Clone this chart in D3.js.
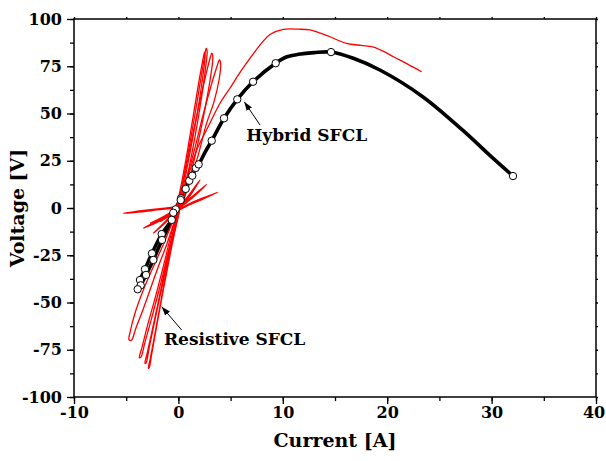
<!DOCTYPE html>
<html>
<head>
<meta charset="utf-8">
<script src="https://cdn.jsdelivr.net/npm/d3@7"></script>
<style>
  body { margin: 0; background: #fff; }
  svg text { font-family: "DejaVu Serif", serif; font-weight: bold; }
</style>
</head>
<body>
<svg id="chart" width="606" height="461"></svg>
<script>
// ---------- data ----------
const xTicks = [-10, 0, 10, 20, 30, 40];
const yTicks = [-100, -75, -50, -25, 0, 25, 50, 75, 100];
const xLabel = "Current [A]";
const yLabel = "Voltage [V]";

// Hybrid SFCL: measured markers (current, voltage)
const hybridMarkI = [0.25, 0.70, 1.04, 1.33, 1.66, 1.94, 3.19, 4.37, 5.64, 7.15, 9.32, 14.62, 32.05,
                     0.22, -0.26, -0.49, -0.64, -1.60, -1.57, -2.53, -2.40, -3.20, -3.10, -3.68, -3.61, -3.90];
const hybridMarkV = [5.1, 10.1, 14.4, 17.1, 21.2, 23.1, 35.6, 47.5, 57.5, 66.8, 76.6, 82.5, 16.9,
                     4.2, -0.7, -2.5, -6.3, -13.8, -16.9, -24.0, -27.5, -32.4, -35.4, -38.1, -40.9, -43.0];
// Hybrid SFCL: continuous trace
const hybridLine = [[-3.9,-43],[-3.68,-38.1],[-3.2,-32.4],[-2.53,-24],[-1.6,-13.8],[-0.64,-6.3],[-0.26,-0.7],
  [0.25,5.1],[0.7,10.1],[1.04,14.4],[1.33,17.1],[1.66,21.2],[1.94,23.1],[2.6,30],[3.19,35.6],[4.37,47.5],
  [5.64,57.5],[7.15,66.8],[9.32,76.6],[10.4,80],[11.5,81.3],[13,82.2],[14.62,82.5],[16.75,79.2],[19.3,73],
  [23.4,58.9],[27.2,41.3],[30.1,26.5],[32.05,16.9]];
const hybridBranch = [[-3.61,-40.9],[-3.1,-35.4],[-2.4,-27.5],[-1.57,-16.9],[-0.9,-9.5],[-0.49,-2.5],[0.22,4.2]];

// Resistive SFCL traces (current, voltage)
const resMain = [[-0.2,-3],[0.4,8],[1.0,18],[1.75,30.7],[2.9,43.5],[3.98,55.4],[4.95,63.5],[6.0,72.5],[7.17,81.5],
  [8.0,87.5],[8.77,91.8],[10.05,94.5],[11.5,94.6],[12.6,94.2],[13.6,92.5],[14.5,90.6],[16.1,87.1],[17.5,86],
  [18.6,85.3],[19.6,83],[20.6,80],[22,76],[23.3,72.1]];
const resUp1 = [[-0.5,-6],[0.2,8],[0.9,28],[1.6,50],[2.2,70],[2.5,80],[2.66,84.5],[2.75,83],[2.6,74],[2.2,58],[1.6,38],[0.9,18],[0.2,2]];
const resUp2 = [[-0.4,-5],[0.4,12],[1.2,34],[2.0,55],[2.7,72],[3.05,79.5],[3.2,81.9],[3.3,80],[3.1,70],[2.6,54],[1.9,35],[1.1,16],[0.3,1]];
const resUp3 = [[-0.2,-3],[0.6,12],[1.5,30],[2.4,50],[3.2,66],[3.7,75],[3.93,78.3],[4.05,76.5],[3.9,68],[3.4,56],[2.7,44.8],[1.9,28],[1.0,12],[0.2,0]];
const resUp4 = [[-0.6,-8],[0.0,5],[0.7,25],[1.4,48],[2.0,68],[2.4,80],[2.5,82.5],[2.55,80],[2.3,68],[1.8,50],[1.2,32],[0.5,12],[-0.1,-2]];
const resLow1 = [[0.3,3],[-0.6,-8],[-1.5,-20],[-2.4,-31.1],[-3.36,-43.4],[-4.16,-55.7],[-4.6,-65],[-4.73,-69.8],[-4.5,-70],[-4.1,-64],[-3.52,-55.7],[-2.72,-43.4],[-1.93,-31.1],[-1.1,-19],[-0.3,-6],[0.3,3]];
const resLow2 = [[0.4,5],[-0.5,-10],[-1.4,-30],[-2.2,-47],[-3.0,-63],[-3.5,-74],[-3.74,-79.2],[-3.6,-79],[-3.2,-71],[-2.5,-57],[-1.7,-40],[-0.9,-22],[0,-3]];
const resLow3 = [[0.5,6],[-0.4,-10],[-1.2,-30],[-1.9,-49],[-2.6,-67],[-3.0,-77],[-3.2,-82.2],[-3.1,-82],[-2.8,-74],[-2.2,-58],[-1.5,-40],[-0.7,-20],[0.1,-2]];
const resLow4 = [[0.6,8],[-0.2,-6],[-1.0,-28],[-1.7,-50],[-2.3,-68],[-2.7,-80],[-2.88,-84.8],[-2.8,-84.5],[-2.55,-77],[-2.0,-60],[-1.4,-42],[-0.7,-22],[0.1,-1]];
const resFlat1 = [[0.4,1.0],[-0.5,0.4],[-1.8,-0.3],[-3.5,-1.4],[-5.3,-2.8],[-3.5,-2.0],[-1.8,-0.9],[-0.5,-0.2],[0.3,0.3]];
const resFlat2 = [[-3.36,-10.7],[-2,-6.8],[-0.5,-2.3],[0.8,1.6],[2.3,5.2],[3.77,8.3],[2.3,4.6],[0.8,1.0],[-0.5,-2.9],[-2,-7.5],[-3.36,-10.7]];
const resFlat3 = [[-2.4,-13.4],[-1.2,-6.8],[0,0.2],[1.0,6.8],[2.07,14.8],[1.0,6.0],[0,-0.6],[-1.2,-7.6],[-2.4,-13.4]];
const resFlat4 = [[-2.72,-8.1],[-1.3,-4.2],[0,0.4],[1.3,6.0],[2.7,12.5],[1.3,5.2],[0,-0.4],[-1.3,-5.0],[-2.72,-8.1]];
const resFlat5 = [[-1.76,-7.2],[-0.8,-3.2],[0,0.4],[0.9,5.6],[1.75,12.2],[0.9,4.8],[0,-0.4],[-0.8,-4.0],[-1.76,-7.2]];
const resTraces = [resMain, resUp1, resUp2, resUp3, resUp4, resLow1, resLow2, resLow3, resLow4,
                   resFlat1, resFlat2, resFlat3, resFlat4, resFlat5];

// Annotations (data units)
const annHybrid = { text: "Hybrid SFCL", x: 6.5, y: 35.6, from: [7.82, 43.9], to: [6.31, 56.2] };
const annResist = { text: "Resistive SFCL", x: -1.38, y: -72.5, from: [0.32, -64.6], to: [-1.6, -52.2] };

// ---------- drawing ----------
const svg = d3.select("#chart");
const mL = 74, mR = 596, mT = 19, mB = 397;
const x = d3.scaleLinear().domain([-10, 40]).range([mL, mR]);
const y = d3.scaleLinear().domain([-100, 100]).range([mB, mT]);

svg.append("defs").append("marker")
  .attr("id", "arr").attr("viewBox", "0 0 10 10").attr("refX", 10).attr("refY", 5)
  .attr("markerWidth", 9).attr("markerHeight", 9).attr("markerUnits", "userSpaceOnUse")
  .attr("orient", "auto")
  .append("path").attr("d", "M0,1.5 L10,5 L0,8.5 Z").attr("fill", "#000");

const line = d3.line().x(d => x(d[0])).y(d => y(d[1])).curve(d3.curveCatmullRom.alpha(0.5));

// hybrid thick trace
svg.append("path").datum(hybridLine).attr("d", line)
  .attr("fill", "none").attr("stroke", "#000").attr("stroke-width", 3.6).attr("stroke-linejoin", "round");
svg.append("path").datum(hybridBranch).attr("d", line)
  .attr("fill", "none").attr("stroke", "#000").attr("stroke-width", 3.6).attr("stroke-linejoin", "round");

// resistive red traces
svg.append("g").selectAll("path").data(resTraces).join("path")
  .attr("d", line).attr("fill", "none").attr("stroke", "#ff0000").attr("stroke-width", 1.3);

// markers
svg.append("g").selectAll("circle").data(hybridMarkI).join("circle")
  .attr("cx", d => x(d)).attr("cy", (d, i) => y(hybridMarkV[i])).attr("r", 3.7)
  .attr("fill", "#fff").attr("stroke", "#000").attr("stroke-width", 1);

// axes
const fmt = d => String(d);
function styleAxis(g) {
  g.select(".domain").remove();
  g.selectAll(".tick line").attr("stroke", "#000").attr("stroke-width", 1.3);
  g.selectAll("text").attr("fill", "#000").style("font-size", "16px").style("font-weight", "bold")
   .style("font-family", "'DejaVu Serif', serif");
}
const xMinor = d3.range(-10, 40.01, 5);
const yMinor = d3.range(-100, 100.01, 12.5);

svg.append("g").attr("transform", `translate(0,${mB})`)
  .call(d3.axisBottom(x).tickValues(xMinor).tickSize(4).tickFormat("")).call(styleAxis);
const xAxisG = svg.append("g").attr("transform", `translate(0,${mB})`)
  .call(d3.axisBottom(x).tickValues(xTicks).tickSize(7).tickPadding(3).tickFormat(fmt)).call(styleAxis);
// keep the last label inside the canvas
xAxisG.selectAll(".tick text").filter(d => d === xTicks[xTicks.length - 1]).attr("dx", "-2.5");
svg.append("g").attr("transform", `translate(${mL},0)`)
  .call(d3.axisLeft(y).tickValues(yMinor).tickSize(4).tickFormat("")).call(styleAxis);
svg.append("g").attr("transform", `translate(${mL},0)`)
  .call(d3.axisLeft(y).tickValues(yTicks).tickSize(7).tickPadding(5).tickFormat(fmt)).call(styleAxis);
svg.append("g").attr("transform", `translate(0,${mT})`)
  .call(d3.axisTop(x).tickValues(xMinor).tickSize(2).tickFormat("")).call(styleAxis);
svg.append("g").attr("transform", `translate(${mR},0)`)
  .call(d3.axisRight(y).tickValues(yMinor).tickSize(2).tickFormat("")).call(styleAxis);

// frame
svg.append("rect").attr("x", mL).attr("y", mT).attr("width", mR - mL).attr("height", mB - mT)
  .attr("fill", "none").attr("stroke", "#000").attr("stroke-width", 1.5);

// axis titles
svg.append("text").attr("x", 335).attr("y", 447).attr("text-anchor", "middle")
  .style("font-size", "19px").text(xLabel);
svg.append("text").attr("transform", `translate(24,${(mT + mB) / 2}) rotate(-90)`).attr("text-anchor", "middle")
  .style("font-size", "19px").text(yLabel);

// annotations
[annHybrid, annResist].forEach(a => {
  svg.append("line").attr("x1", x(a.from[0])).attr("y1", y(a.from[1]))
    .attr("x2", x(a.to[0])).attr("y2", y(a.to[1]))
    .attr("stroke", "#000").attr("stroke-width", 1).attr("marker-end", "url(#arr)");
  svg.append("text").attr("x", x(a.x)).attr("y", y(a.y)).style("font-size", "17px").text(a.text);
});
</script>
</body>
</html>
